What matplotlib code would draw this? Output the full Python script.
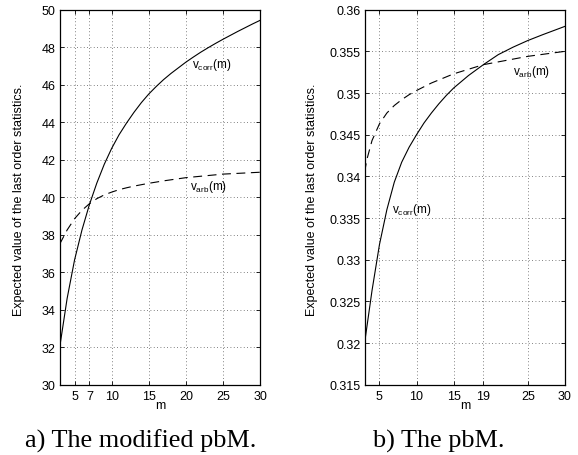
import matplotlib
matplotlib.use("Agg")
import matplotlib.pyplot as plt
from matplotlib.ticker import FixedLocator, FixedFormatter

plt.rcParams['font.family'] = ['Liberation Sans', 'DejaVu Sans']
plt.rcParams['mathtext.fontset'] = 'custom'
plt.rcParams['mathtext.rm'] = 'Liberation Sans'
plt.rcParams['mathtext.it'] = 'Liberation Sans:italic'

# ---- panel a) the modified pbM ----
m_corr_a = [3, 4, 5, 6, 7, 8, 9, 10, 11, 12, 13, 14, 15, 16, 17, 18, 19, 20,
            21, 22, 23, 24, 25, 26, 27, 28, 29, 30]
v_corr_a = [32.0, 34.6, 36.65, 38.25, 39.6, 40.75, 41.75, 42.6, 43.33, 43.95,
            44.52, 45.04, 45.5, 45.9, 46.27, 46.6, 46.9, 47.2, 47.47, 47.73,
            47.97, 48.2, 48.42, 48.63, 48.84, 49.04, 49.24, 49.43]
m_arb_a = [3, 4, 5, 6, 7, 8, 9, 10, 11, 12, 13, 15, 17, 20, 25, 30]
v_arb_a = [37.5, 38.25, 38.85, 39.3, 39.65, 39.92, 40.12, 40.27, 40.4, 40.5,
           40.59, 40.74, 40.87, 41.04, 41.23, 41.33]
xticks_a = [5, 7, 10, 15, 20, 25, 30]
yticks_a = [30, 32, 34, 36, 38, 40, 42, 44, 46, 48, 50]
ylabels_a = ['30', '32', '34', '36', '38', '40', '42', '44', '46', '48', '50']

# ---- panel b) the pbM ----
m_corr_b = [3, 4, 5, 6, 7, 8, 9, 10, 11, 12, 13, 14, 15, 17, 19, 21, 23, 25, 27, 30]
v_corr_b = [0.3200, 0.3263, 0.3318, 0.3360, 0.3393, 0.3417, 0.3435, 0.3450,
            0.3464, 0.3476, 0.3487, 0.3497, 0.3506, 0.3521, 0.3534, 0.3546,
            0.3555, 0.3563, 0.3570, 0.3580]
m_arb_b = [3, 3.3, 4, 5, 6, 7, 8, 9, 10, 12, 15, 19, 25, 30]
v_arb_b = [0.3405, 0.3420, 0.3443, 0.3463, 0.3476, 0.3485, 0.3492, 0.3498,
           0.3503, 0.3512, 0.3523, 0.3534, 0.3544, 0.3550]
xticks_b = [5, 10, 15, 19, 25, 30]
yticks_b = [0.315, 0.32, 0.325, 0.33, 0.335, 0.34, 0.345, 0.35, 0.355, 0.36]
ylabels_b = ['0.315', '0.32', '0.325', '0.33', '0.335', '0.34', '0.345',
             '0.35', '0.355', '0.36']

ylabel_text = 'Expected value of the last order statistics.'
captions = ['a) The modified pbM.', 'b) The pbM.']

fig = plt.figure(figsize=(5.78, 4.56), dpi=100)
ax_a = fig.add_axes([0.1033, 0.1542, 0.3466, 0.8224])
ax_b = fig.add_axes([0.6308, 0.1542, 0.3467, 0.8224])

def style(ax, xt, yt, yl, ylim, labx):
    ax.set_xlim(3, 30)
    ax.set_ylim(*ylim)
    ax.xaxis.set_major_locator(FixedLocator(xt))
    ax.xaxis.set_major_formatter(FixedFormatter([str(v) for v in xt]))
    ax.yaxis.set_major_locator(FixedLocator(yt))
    ax.yaxis.set_major_formatter(FixedFormatter(yl))
    ax.tick_params(direction='in', top=True, right=True, length=3,
                   width=0.6, labelsize=9, pad=3, colors='black')
    ax.tick_params(axis='x', pad=4)
    for s in ax.spines.values():
        s.set_linewidth(0.9)
    ax.grid(True, color='0.35', linestyle=(0, (1, 3)), linewidth=0.6)
    ax.set_xlabel('m', fontsize=9, labelpad=-2.5)
    ax.set_ylabel(ylabel_text, fontsize=9)
    ax.yaxis.set_label_coords(labx, 0.495)

style(ax_a, xticks_a, yticks_a, ylabels_a, (30, 50), -0.175)
style(ax_b, xticks_b, yticks_b, ylabels_b, (0.315, 0.36), -0.234)

ax_a.plot(m_corr_a, v_corr_a, color='black', lw=0.8)
ax_a.plot(m_arb_a, v_arb_a, color='black', lw=0.8, linestyle=(0, (8, 5)))
ax_b.plot(m_corr_b, v_corr_b, color='black', lw=0.8)
ax_b.plot(m_arb_b, v_arb_b, color='black', lw=0.8, linestyle=(0, (8, 5)))

ax_a.text(20.8, 47.1, r'v$_\mathrm{corr}$(m)', fontsize=8.5, va='center', ha='left')
ax_a.text(20.6, 40.6, r'v$_\mathrm{arb}$(m)', fontsize=8.5, va='center', ha='left')
ax_b.text(6.66, 0.3361, r'v$_\mathrm{corr}$(m)', fontsize=8.5, va='center', ha='left')
ax_b.text(22.95, 0.3527, r'v$_\mathrm{arb}$(m)', fontsize=8.5, va='center', ha='left')

fig.text(141 / 578, 1 - 448 / 456, captions[0], fontsize=18.9,
         family='Liberation Serif', ha='center', va='baseline')
fig.text(439 / 578, 1 - 448 / 456, captions[1], fontsize=18.9,
         family='Liberation Serif', ha='center', va='baseline')

fig.savefig('out.png', dpi=100)
